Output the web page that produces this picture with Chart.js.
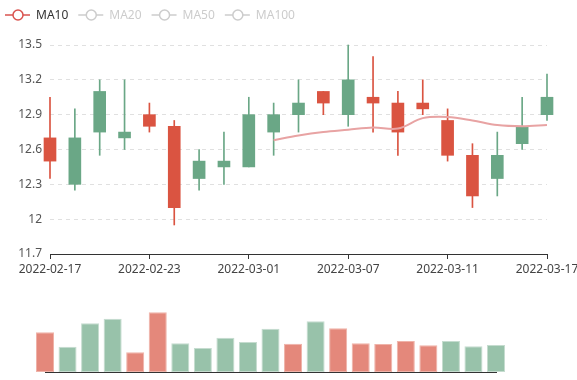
<!DOCTYPE html>
<html><head><meta charset="utf-8">
<script src="https://cdn.jsdelivr.net/npm/chart.js@4/dist/chart.umd.min.js"></script>
<style>
html,body{margin:0;padding:0;background:#fff;overflow:hidden;width:577px;height:380px;}
#wrap{position:relative;width:577px;height:380px;overflow:hidden;background:#fff;}
#main{position:absolute;left:0;top:0;}
#vol{position:absolute;left:0;top:290px;}
</style></head><body>
<div id="wrap">
<canvas id="main" width="620" height="290" style="width:620px;height:290px"></canvas>
<canvas id="vol" width="577" height="90" style="width:577px;height:90px"></canvas>
</div>
<script>
// ---- data ----
const dates = ['2022-02-17','2022-02-18','2022-02-21','2022-02-22','2022-02-23','2022-02-24','2022-02-25','2022-02-28','2022-03-01','2022-03-02','2022-03-03','2022-03-04','2022-03-07','2022-03-08','2022-03-09','2022-03-10','2022-03-11','2022-03-14','2022-03-15','2022-03-16','2022-03-17'];
const openPrices  = [12.70,12.30,12.75,12.70,12.90,12.80,12.35,12.45,12.45,12.75,12.90,13.10,12.90,13.05,13.00,13.00,12.85,12.55,12.35,12.65,12.90];
const closePrices = [12.50,12.70,13.10,12.75,12.80,12.10,12.50,12.50,12.90,12.90,13.00,13.00,13.20,13.00,12.75,12.95,12.55,12.20,12.55,12.80,13.05];
const lowPrices   = [12.35,12.25,12.55,12.60,12.75,11.95,12.25,12.30,12.45,12.55,12.75,12.90,12.80,12.75,12.55,12.90,12.50,12.10,12.20,12.60,12.85];
const highPrices  = [13.05,12.95,13.20,13.20,13.00,12.85,12.60,12.75,13.05,13.00,13.20,13.10,13.50,13.40,13.10,13.20,12.95,12.65,12.75,13.05,13.25];
const ma10 = [null,null,null,null,null,null,null,null,null,12.68,12.72,12.75,12.77,12.79,12.78,12.87,12.88,12.85,12.81,12.80,12.81];
const volumes = [119,76,146,160,59,179,86,72,103,90,130,85,152,131,86,84,93,80,93,77,81];
const yTicks = [11.7,12.0,12.3,12.6,12.9,13.2,13.5];
const labelStep = 4;
const legendNames = ['MA10','MA20','MA50','MA100'];
const legendActive = [true,false,false,false];

// ---- styles ----
const RED = '#da5441', GREEN = '#6aa786';
const VRED = '#e4887b', VGREEN = '#98c2aa';
const VRED_B = '#efb3a9', VGREEN_B = '#c5dccf';
const MA_COLOR = '#e8a3a3', MA_ICON = '#d9534f';
const FONT = '"Noto Sans", "Liberation Sans", sans-serif';
Chart.defaults.font.family = FONT;
Chart.defaults.font.size = 12;

const isDown = i => closePrices[i] < openPrices[i];
const candleColors = dates.map((_, i) => isDown(i) ? RED : GREEN);

const legendPlugin = {
  id: 'maLegend',
  afterDraw(chart) {
    const ctx = chart.ctx;
    ctx.save();
    ctx.font = '12px ' + FONT;
    ctx.textBaseline = 'middle';
    let x = 5;
    const y = 15;
    legendNames.forEach((name, i) => {
      const col = legendActive[i] ? MA_ICON : '#cccccc';
      ctx.strokeStyle = col;
      ctx.lineWidth = 1.5;
      ctx.beginPath();
      ctx.moveTo(x, y); ctx.lineTo(x + 25, y);
      ctx.stroke();
      ctx.beginPath();
      ctx.arc(x + 13, y, 5, 0, Math.PI * 2);
      ctx.fillStyle = '#fff';
      ctx.fill();
      ctx.stroke();
      ctx.fillStyle = legendActive[i] ? '#333' : '#cccccc';
      ctx.fillText(name, x + 31, y + 1);
      x += 31 + ctx.measureText(name).width + 10;
    });
    ctx.restore();
  }
};

new Chart(document.getElementById('main'), {
  data: {
    labels: dates,
    datasets: [
      { type: 'line', label: 'MA10', data: ma10, borderColor: MA_COLOR, borderWidth: 2,
        pointRadius: 0, tension: 0.35, fill: false, order: 0 },
      { type: 'bar', label: 'body', data: dates.map((_, i) => [openPrices[i], closePrices[i]]),
        backgroundColor: candleColors, borderWidth: 0, barThickness: 12, grouped: false,
        borderSkipped: false, clip: false, order: 1 },
      { type: 'bar', label: 'wick', data: dates.map((_, i) => [lowPrices[i], highPrices[i]]),
        backgroundColor: candleColors, borderWidth: 0, barThickness: 1, grouped: false,
        borderSkipped: false, clip: false, order: 2 }
    ]
  },
  options: {
    responsive: false, animation: false, devicePixelRatio: 1,
    layout: { padding: { left: 0, right: 73, top: 45, bottom: 0 } },
    plugins: { legend: { display: false }, tooltip: { enabled: false } },
    scales: {
      x: {
        type: 'category', offset: false,
        grid: { offset: false, drawOnChartArea: false, tickLength: 5,
                tickColor: c => (c.index % labelStep === 0 ? '#333' : 'rgba(0,0,0,0)') },
        border: { color: '#333', z: 1 },
        ticks: { autoSkip: false, maxRotation: 0, minRotation: 0, padding: 3, color: '#444',
                 callback: (v, i) => (i % labelStep === 0 ? dates[i] : '') },
        afterFit: s => { s.height = 36; }
      },
      y: {
        min: 11.7, max: 13.5,
        afterBuildTicks: s => { s.ticks = yTicks.map(v => ({ value: v })); },
        ticks: { padding: 8, color: '#555', callback: v => String(+(+v).toFixed(1)) },
        grid: { color: '#e0e0e0', drawTicks: false },
        border: { display: false, dash: [4, 4] },
        afterFit: s => { s.width = 50; }
      }
    }
  },
  plugins: [legendPlugin]
});

new Chart(document.getElementById('vol'), {
  type: 'bar',
  data: {
    labels: dates,
    datasets: [{
      label: 'Volume', data: volumes,
      backgroundColor: dates.map((_, i) => isDown(i) ? VRED : VGREEN),
      borderColor: dates.map((_, i) => isDown(i) ? VRED_B : VGREEN_B),
      borderWidth: 1, borderSkipped: false,
      barPercentage: 0.8, categoryPercentage: 1, clip: false
    }]
  },
  options: {
    responsive: false, animation: false, devicePixelRatio: 1,
    layout: { padding: { left: 45, right: 81, top: 22, bottom: 8 } },
    plugins: { legend: { display: false }, tooltip: { enabled: false } },
    scales: {
      x: { offset: false, grid: { display: false, offset: false }, ticks: { display: false },
           border: { display: true, color: '#333', z: 1 }, afterFit: s => { s.height = 0; } },
      y: { display: false, min: 0, max: 180 }
    }
  }
});
</script>
</body></html>
